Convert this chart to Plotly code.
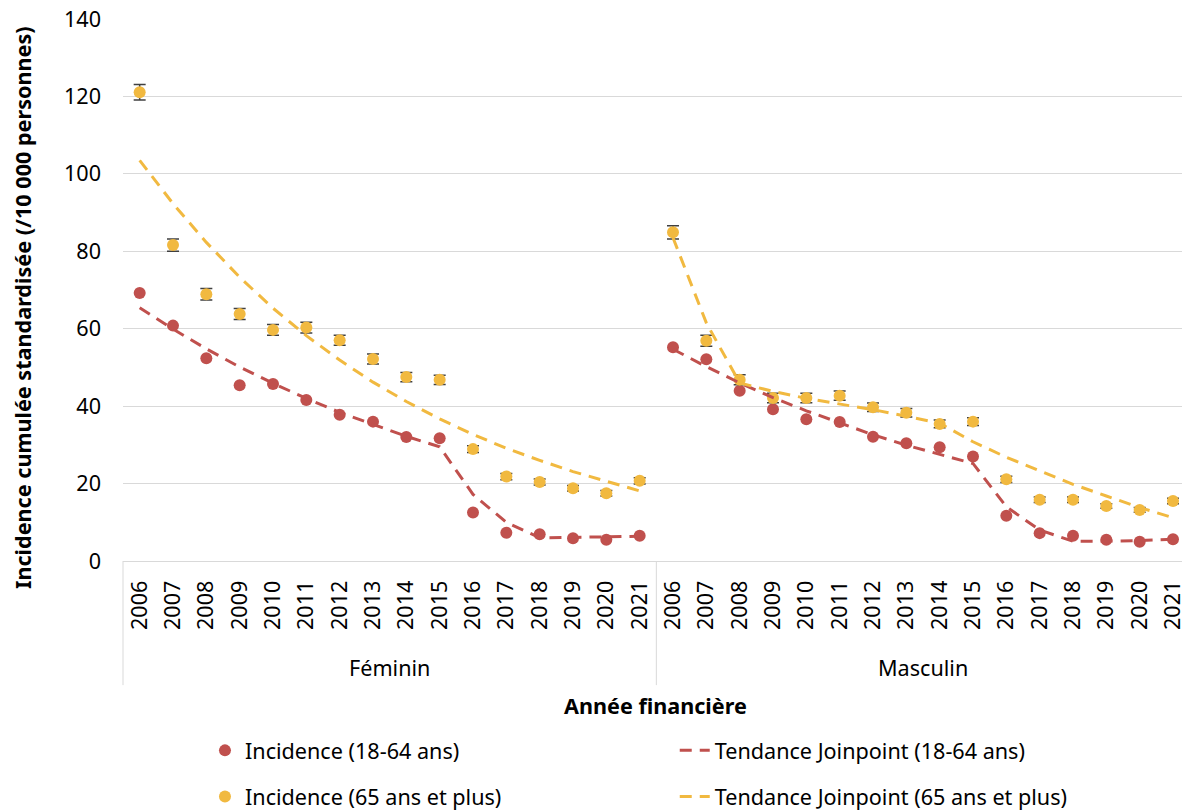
import plotly.graph_objects as go

years = ["2006", "2007", "2008", "2009", "2010", "2011", "2012", "2013",
         "2014", "2015", "2016", "2017", "2018", "2019", "2020", "2021"]
sexes = ["Féminin", "Masculin"]

# Incidence 18-64 ans
fem_young = [69.2, 60.8, 52.4, 45.4, 45.7, 41.6, 37.8, 36.0, 32.0, 31.7, 12.5, 7.3, 6.9, 5.9, 5.5, 6.5]
mas_young = [55.2, 52.1, 44.0, 39.2, 36.6, 35.9, 32.1, 30.4, 29.4, 27.0, 11.7, 7.2, 6.5, 5.5, 5.0, 5.6]
# Incidence 65 ans et plus
fem_old = [121.1, 81.6, 68.9, 63.8, 59.7, 60.3, 57.0, 52.2, 47.5, 46.8, 28.9, 21.8, 20.4, 18.8, 17.5, 20.7]
mas_old = [84.9, 56.9, 46.8, 42.1, 42.1, 42.7, 39.7, 38.3, 35.4, 36.0, 21.1, 15.8, 15.8, 14.2, 13.2, 15.5]
# error (65+)
fem_old_err = [2.0, 1.6, 1.5, 1.4, 1.4, 1.4, 1.3, 1.3, 1.2, 1.2, 0.9, 0.8, 0.8, 0.7, 0.7, 0.8]
mas_old_err = [1.7, 1.4, 1.3, 1.2, 1.2, 1.2, 1.1, 1.1, 1.0, 1.0, 0.8, 0.7, 0.7, 0.6, 0.6, 0.7]
# Joinpoint trends
fem_young_trend = [65.4, 59.9, 54.8, 50.1, 45.9, 42.0, 38.4, 35.2, 32.2, 29.5, 17.2, 10.0, 6.0, 6.1, 6.2, 6.4]
mas_young_trend = [54.7, 50.2, 46.0, 42.2, 38.8, 35.6, 32.6, 29.9, 27.5, 25.2, 14.0, 8.0, 5.1, 5.1, 5.3, 5.6]
fem_old_trend = [103.5, 92.3, 82.3, 73.3, 65.3, 58.2, 51.9, 46.2, 41.2, 36.7, 32.7, 29.1, 26.0, 23.1, 20.6, 18.1]
mas_old_trend = [83.5, 61.5, 46.0, 43.8, 42.0, 40.6, 39.1, 37.4, 35.6, 30.8, 26.8, 23.3, 19.8, 16.8, 13.8, 11.2]

RED = "#C0504D"
GOLD = "#F1B940"
GRID = "#D9D9D9"
FONT = "Noto Sans"
FS = 21.6

cats = [s + " " + y for s in sexes for y in years]
fem_cats = cats[:len(years)]
mas_cats = cats[len(years):]

fig = go.Figure()

fig.add_trace(go.Scatter(
    x=cats, y=fem_young + mas_young, mode="markers",
    marker=dict(color=RED, size=12),
    name="Incidence (18-64 ans)", legend="legend", legendgroup="a"))
fig.add_trace(go.Scatter(
    x=cats, y=fem_old + mas_old, mode="markers",
    marker=dict(color=GOLD, size=12),
    error_y=dict(type="data", array=fem_old_err + mas_old_err,
                 color="#404040", thickness=1.5, width=6),
    name="Incidence (65 ans et plus)", legend="legend", legendgroup="b"))

for i, (cs, vals) in enumerate([(fem_cats, fem_young_trend), (mas_cats, mas_young_trend)]):
    fig.add_trace(go.Scatter(
        x=cs, y=vals, mode="lines",
        line=dict(color=RED, width=3, dash="12px,8px"),
        name="Tendance Joinpoint (18-64 ans)", legend="legend2",
        legendgroup="c", showlegend=(i == 0)))
for i, (cs, vals) in enumerate([(fem_cats, fem_old_trend), (mas_cats, mas_old_trend)]):
    fig.add_trace(go.Scatter(
        x=cs, y=vals, mode="lines",
        line=dict(color=GOLD, width=3, dash="12px,8px"),
        name="Tendance Joinpoint (65 ans et plus)", legend="legend2",
        legendgroup="d", showlegend=(i == 0)))

n = len(years)
fig.update_layout(
    width=1182, height=810,
    margin=dict(l=123, r=0, t=19, b=249, autoexpand=False),
    paper_bgcolor="white", plot_bgcolor="white",
    font=dict(family=FONT, size=FS, color="#000000"),
    xaxis=dict(
        type="category", categoryorder="array", categoryarray=cats,
        range=[-0.5, 31.27], automargin=False,
        tickmode="array", tickvals=cats, ticktext=years + years,
        tickangle=-90, showgrid=False, showline=True, linecolor=GRID,
        linewidth=1, ticks="", tickfont=dict(size=FS),
        ticklabelstandoff=10, zeroline=False),
    yaxis=dict(
        range=[0, 140], dtick=20, tick0=0, showgrid=True, gridcolor=GRID,
        gridwidth=1, zeroline=False, ticks="", tickfont=dict(size=FS),
        ticklabelstandoff=21, showline=False, automargin=False),
    legend=dict(orientation="v", x=0.0774, xanchor="left", y=-0.3115,
                yanchor="top", traceorder="grouped", tracegroupgap=15,
                font=dict(size=FS), bgcolor="rgba(0,0,0,0)"),
    legend2=dict(orientation="v", x=0.521, xanchor="left", y=-0.3115,
                 yanchor="top", traceorder="grouped", tracegroupgap=15,
                 font=dict(size=FS), bgcolor="rgba(0,0,0,0)"),
    showlegend=True,
)

fig.add_shape(type="line", xref="paper", yref="paper", x0=0, x1=0,
              y0=0, y1=-0.229, line=dict(color=GRID, width=1))
fig.add_shape(type="line", xref="x", yref="paper", x0=n - 0.5, x1=n - 0.5,
              y0=0, y1=-0.229, line=dict(color=GRID, width=1))

fig.add_annotation(x=(n - 1) / 2, xref="x", y=-0.1956, yref="paper",
                   xanchor="center", yanchor="middle",
                   text=sexes[0], showarrow=False, font=dict(size=FS))
fig.add_annotation(x=n + (n - 1) / 2, xref="x", y=-0.1956, yref="paper",
                   xanchor="center", yanchor="middle",
                   text=sexes[1], showarrow=False, font=dict(size=FS))
fig.add_annotation(x=0.503, xref="paper", y=-0.266, yref="paper",
                   xanchor="center", yanchor="middle",
                   text="<b>Année financière</b>", showarrow=False,
                   font=dict(size=FS))
fig.add_annotation(x=-0.0954, xref="paper", y=0.4686, yref="paper",
                   xanchor="center", yanchor="middle",
                   text="<b>Incidence cumulée standardisée (/10 000 personnes)</b>",
                   textangle=-90, showarrow=False, font=dict(size=FS))

fig.write_html("out.html")
